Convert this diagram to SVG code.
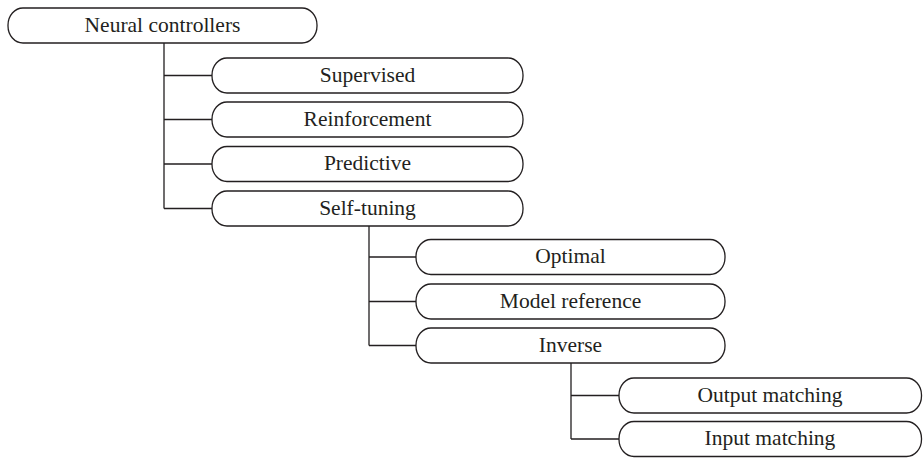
<svg xmlns="http://www.w3.org/2000/svg" width="923" height="458" viewBox="0 0 923 458">
<style>
.box{fill:#fff;stroke:#231f20;stroke-width:1.3}
.lbl{font-family:"Liberation Serif","DejaVu Serif",serif;font-size:21.5px;fill:#231f20;text-anchor:middle}
.con{fill:none;stroke:#231f20;stroke-width:1.3}
</style>
<rect width="923" height="458" fill="#fff"/>
<g id="connectors">
<path class="con" d="M164,43 V208.5 M164,75.5 H212 M164,119.5 H212 M164,164 H212 M164,208.5 H212"/>
<path class="con" d="M369,226 V345.5 M369,257 H416 M369,301.5 H416 M369,345.5 H416"/>
<path class="con" d="M571,363 V439 M571,395.5 H619 M571,439 H619"/>
</g>
<g id="n-root"><rect class="box" x="8" y="8" width="309" height="35" rx="15" ry="17"/><text class="lbl" x="162.5" y="31.5">Neural controllers</text></g>
<g id="n-supervised"><rect class="box" x="212" y="58" width="311" height="35" rx="15" ry="17"/><text class="lbl" x="367.5" y="81.5">Supervised</text></g>
<g id="n-reinforcement"><rect class="box" x="212" y="102" width="311" height="35" rx="15" ry="17"/><text class="lbl" x="367.5" y="125.5">Reinforcement</text></g>
<g id="n-predictive"><rect class="box" x="212" y="146.5" width="311" height="35" rx="15" ry="17"/><text class="lbl" x="367.5" y="170">Predictive</text></g>
<g id="n-selftuning"><rect class="box" x="212" y="191" width="311" height="35" rx="15" ry="17"/><text class="lbl" x="367.5" y="214.5">Self-tuning</text></g>
<g id="n-optimal"><rect class="box" x="416" y="239.5" width="309" height="35" rx="15" ry="17"/><text class="lbl" x="570.5" y="263">Optimal</text></g>
<g id="n-modelref"><rect class="box" x="416" y="284" width="309" height="35" rx="15" ry="17"/><text class="lbl" x="570.5" y="307.5">Model reference</text></g>
<g id="n-inverse"><rect class="box" x="416" y="328" width="309" height="35" rx="15" ry="17"/><text class="lbl" x="570.5" y="351.5">Inverse</text></g>
<g id="n-output"><rect class="box" x="619" y="378" width="302.5" height="35" rx="15" ry="17"/><text class="lbl" x="770" y="401.5">Output matching</text></g>
<g id="n-input"><rect class="box" x="619" y="421.5" width="302.5" height="35" rx="15" ry="17"/><text class="lbl" x="770" y="445">Input matching</text></g>
</svg>
